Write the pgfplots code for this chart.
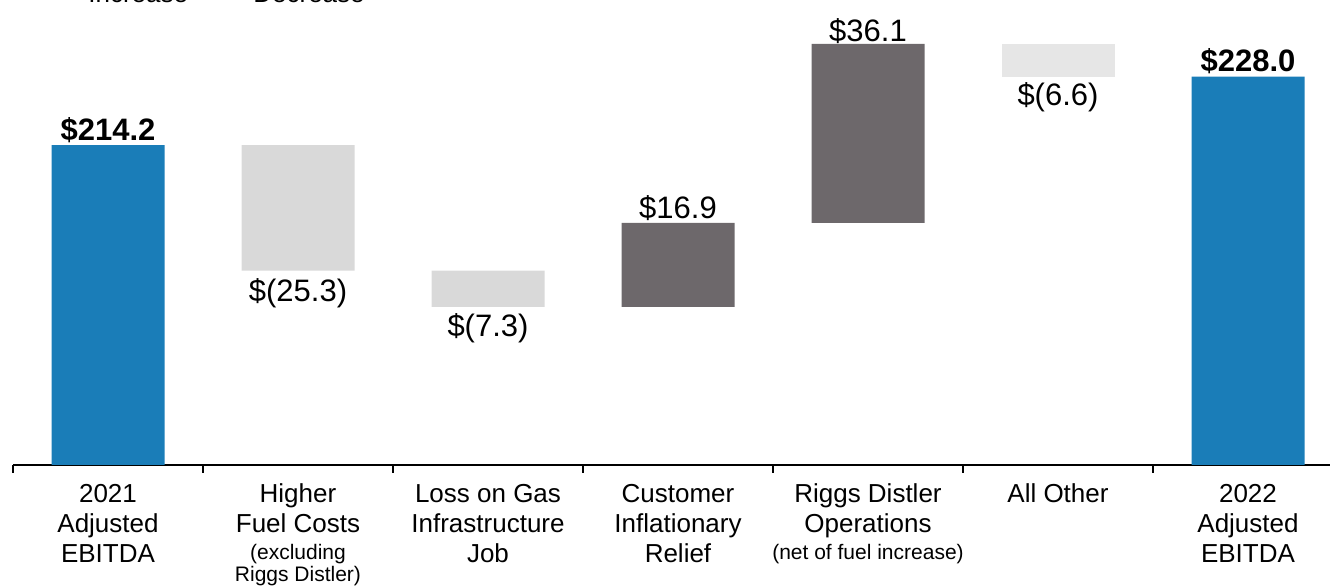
\documentclass[border=0pt]{standalone}
\usepackage{pgfplots}
\pgfplotsset{compat=1.18}
\usepackage{fontspec}
\setmainfont{Liberation Sans}

\definecolor{ebitda}{HTML}{1A7DB8}
\definecolor{incr}{HTML}{6D686B}
\definecolor{decr}{HTML}{D9D9D9}
\definecolor{other}{HTML}{E6E6E6}
\newcommand{\cat}{\fontsize{13}{15}\selectfont}
\newcommand{\note}{\fontsize{10.5}{11}\selectfont}
\newcommand{\val}{\fontsize{15.5}{18}\selectfont}

\begin{document}
\begin{tikzpicture}
\begin{axis}[
    scale only axis,
    width=665pt, height=232.5pt,
    xmin=-0.5, xmax=6.5,
    ymin=149.7, ymax=243.45,
    ybar stacked, bar width=56.5pt,
    axis x line*=bottom, axis y line=none,
    axis line style={black, line width=1pt, -},
    xtick={0,...,6},
    minor xtick={-0.5,0.5,1.5,2.5,3.5,4.5,5.5},
    xtick align=outside,
    major tick length=0pt, minor tick length=4pt,
    minor tick style={black, line width=1pt},
    xticklabels={
        {2021\\Adjusted\\EBITDA},
        {Higher\\Fuel Costs\\[-1.5pt]{\note (excluding}\\[-4pt]{\note Riggs Distler)}},
        {Loss on Gas\\Infrastructure\\Job},
        {Customer\\Inflationary\\Relief},
        {Riggs Distler\\Operations\\[-1.5pt]{\note (net of fuel increase)}},
        {All Other},
        {2022\\Adjusted\\EBITDA}},
    xticklabel style={font=\cat, align=center, anchor=north, yshift=-6pt},
    ytick=\empty,
    every axis plot/.append style={draw=none},
]
% invisible base of each floating bar
\addplot[fill=none] coordinates {(0,0) (1,188.9) (2,181.6) (3,181.6) (4,198.5) (5,228.0) (6,0)};
% EBITDA totals
\addplot[fill=ebitda] coordinates {(0,214.2) (1,0) (2,0) (3,0) (4,0) (5,0) (6,228.0)};
% decreases
\addplot[fill=decr] coordinates {(0,0) (1,25.3) (2,7.3) (3,0) (4,0) (5,0) (6,0)};
% increases
\addplot[fill=incr] coordinates {(0,0) (1,0) (2,0) (3,16.9) (4,36.1) (5,0) (6,0)};
% all other
\addplot[fill=other] coordinates {(0,0) (1,0) (2,0) (3,0) (4,0) (5,6.6) (6,0)};

\node[anchor=south, font=\val\bfseries, inner sep=1pt] at (axis cs:0,214.2) {\$214.2};
\node[anchor=north, font=\val, inner sep=4pt] at (axis cs:1,188.9) {\$(25.3)};
\node[anchor=north, font=\val, inner sep=3pt] at (axis cs:2,181.6) {\$(7.3)};
\node[anchor=south, font=\val, inner sep=1pt] at (axis cs:3,198.5) {\$16.9};
\node[anchor=south, font=\val, inner sep=0pt] at (axis cs:4,234.6) {\$36.1};
\node[anchor=north, font=\val, inner sep=3pt] at (axis cs:5,228.0) {\$(6.6)};
\node[anchor=south, font=\val\bfseries, inner sep=1pt] at (axis cs:6,228.0) {\$228.0};
\end{axis}
% legend, cut off by the top edge of the page
\node[anchor=base west, font=\cat, inner sep=0pt] at (37.5pt,231pt) {Increase};
\node[anchor=base west, font=\cat, inner sep=0pt] at (120pt,231pt) {Decrease};
\pgfresetboundingbox
\path[use as bounding box] (-6.5pt,-60pt) rectangle (658.5pt,232.5pt);
\end{tikzpicture}
\end{document}
